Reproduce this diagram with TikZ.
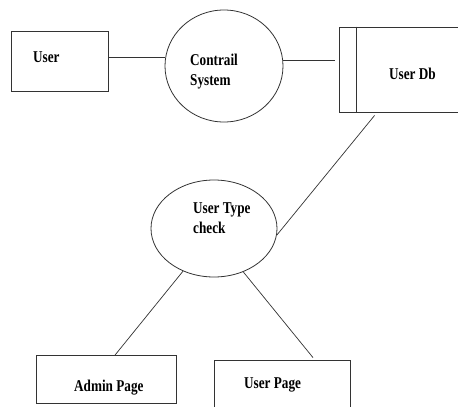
\documentclass[tikz,border=0pt]{standalone}
\usepackage{fontspec}
\setmainfont{Liberation Serif}
\usetikzlibrary{shapes.geometric,calc}
\newcommand{\nrw}[1]{\scalebox{0.8}[1]{#1}}
\begin{document}
\begin{tikzpicture}[x=1pt,y=-1pt,
  box/.style={draw=black!80,line width=0.8pt,rectangle,inner sep=0pt},
  proc/.style={draw=black!80,line width=0.8pt,ellipse,inner sep=0pt},
  lbl/.style={font=\fontsize{16.5}{20}\selectfont\bfseries,align=left,inner sep=0pt,anchor=base west},
  lbltwo/.style={font=\fontsize{16.5}{20}\selectfont\bfseries,align=left,inner sep=0pt,anchor=west},
  conn/.style={draw=black!80,line width=0.7pt}]
\clip (0,0) rectangle (458,407);
\fill[white] (0,0) rectangle (458,407);
% nodes
\node[box,minimum width=97pt,minimum height=60pt] (user) at (59.5,61) {};
\node[lbl] (userT) at (33,62) {\nrw{User}};
\node[proc,minimum width=118pt,minimum height=112pt] (contrail) at (224,66) {};
\node[lbltwo] (contrailT) at (190,72) {\nrw{Contrail}\\\nrw{System}};
\node[box,minimum width=141pt,minimum height=85pt] (db) at (409.5,69.5) {};
\draw[conn] ($(db.north west)+(18,0)$) -- ($(db.south west)+(18,0)$);
\node[lbl] (dbT) at (389,79) {\nrw{User Db}};
\node[proc,minimum width=126pt,minimum height=97pt] (check) at (214,228.5) {};
\node[lbltwo] (checkT) at (193,218) {\nrw{User Type}\\\nrw{check}};
\node[box,minimum width=140pt,minimum height=48pt] (admin) at (106,379.5) {};
\node[lbl] (adminT) at (74,391) {\nrw{Admin Page}};
\node[box,minimum width=136pt,minimum height=60pt] (upage) at (282,390) {};
\node[lbl] (upageT) at (244,388) {\nrw{User Page}};
% connectors
\draw[conn] (user.east |- contrail.172) -- (contrail.172);
\draw[conn] (contrail.5) -- ($(db.west |- contrail.5)+(-4,0)$);
\draw[conn] ($(db.south west)+(36,3)$) -- (check.-6);
\draw[conn] (check.234) -- ($(admin.north)+(9,0)$);
\draw[conn] (check.304) -- ($(upage.north)+(31,-2)$);
\end{tikzpicture}
\end{document}
